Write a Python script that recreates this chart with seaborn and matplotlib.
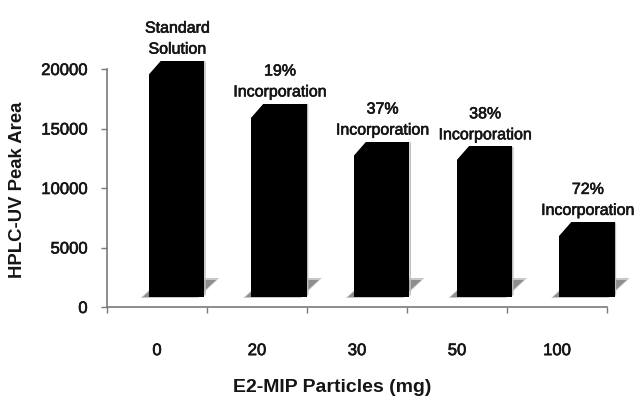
import numpy as np
import pandas as pd
import matplotlib
matplotlib.use("Agg")
import matplotlib.pyplot as plt
import matplotlib.patheffects as pe
import seaborn as sns
from matplotlib.transforms import Affine2D, IdentityTransform
from matplotlib.patches import Polygon

# ---- data ----
particles = ["0", "20", "30", "50", "100"]
peak_area = [19850, 16250, 13050, 12650, 6300]
bar_labels = ["Standard\nSolution", "19%\nIncorporation", "37%\nIncorporation",
              "38%\nIncorporation", "72%\nIncorporation"]
y_ticks = [0, 5000, 10000, 15000, 20000]
x_title = "E2-MIP Particles (mg)"
y_title = "HPLC-UV Peak Area"

sns.set_style("white")
plt.rcParams['font.family'] = ['Liberation Sans', 'DejaVu Sans']

W, H = 637, 403
fig = plt.figure(figsize=(W / 100, H / 100), dpi=100)
ax = fig.add_axes([107 / W, (H - 307) / H, 500 / W, 238 / H])

df = pd.DataFrame({"particles": particles, "area": peak_area})
sns.barplot(data=df, x="particles", y="area", order=particles, color="black",
            saturation=1, width=0.555, linewidth=0, ax=ax, zorder=3)

ax.set_xlim(-0.5, 4.5)
ax.set_ylim(0, 20000)
ax.autoscale(False)

grey = "#7a7a7a"
ink = "#151515"
heavy = [pe.withStroke(linewidth=0.45, foreground=ink)]

for side in ["top", "right"]:
    ax.spines[side].set_visible(False)
for side in ["left", "bottom"]:
    ax.spines[side].set_color(grey)
    ax.spines[side].set_linewidth(1.2)

ax.set_yticks(y_ticks)
ax.set_yticklabels([str(v) for v in y_ticks])
ax.tick_params(axis="y", direction="out", length=4, width=1, color=grey,
               pad=10, labelsize=12, left=True, labelcolor=ink)

ax.set_xticks(np.arange(-0.5, 5.0, 1.0))
ax.set_xticklabels([])
ax.set_xticks(range(len(particles)), particles, minor=True)
ax.tick_params(axis="x", which="major", direction="out", length=4, width=1,
               color=grey, bottom=True)
ax.tick_params(axis="x", which="minor", length=0, pad=26, labelsize=12,
               labelcolor=ink)
for t in ax.get_yticklabels() + ax.get_xticklabels(minor=True):
    t.set_path_effects(heavy)

ax.set_xlabel(x_title, fontsize=14, fontweight="bold", color=ink)
ax.xaxis.set_label_coords((332 - 107) / 500, (307 - 388) / 238)
ax.xaxis.label.set_va("center")
ax.set_ylabel(y_title, fontsize=13.3, fontweight="bold", color=ink)
ax.yaxis.set_label_coords((18 - 107) / 500, (307 - 190) / 238)
ax.yaxis.label.set_va("center")

# ---- pseudo 3D styling derived from the bars drawn by seaborn ----
dy = 10
for i, p in enumerate(ax.patches[:len(particles)]):
    x0, y0 = ax.transData.transform((p.get_x(), 0))
    x1, y1 = ax.transData.transform((p.get_x() + p.get_width(), p.get_height()))
    cx = (x0 + x1) / 2
    dx = 19.5 + 0.026 * (cx - 157)
    p.set_transform(ax.transData + Affine2D().translate(dx, dy))
    p.set_clip_on(False)
    L, R, B, T = x0 + dx, x1 + dx, y0 + dy, y1 + dy
    # floor shadow (soft)
    shadow_outer = Polygon([(L - 8, B - 1), (R - 6, B - 1), (R + 15, B + 19), (L + 13, B + 19)],
                           closed=True, facecolor="#c8c8c8", edgecolor="none",
                           transform=IdentityTransform(), zorder=1.9, clip_on=False)
    ax.add_patch(shadow_outer)
    shadow = Polygon([(L - 6, B), (R - 7, B), (R + 12, B + 17), (L + 13, B + 17)],
                     closed=True, facecolor="#8e8e8e", edgecolor="none",
                     transform=IdentityTransform(), zorder=2, clip_on=False)
    ax.add_patch(shadow)
    # light side edge
    side = Polygon([(R, B + 1), (R + 1.5, B + 2), (R + 1.5, T - 1), (R, T)],
                   closed=True, facecolor="#bdbdbd", edgecolor="none",
                   transform=IdentityTransform(), zorder=2.5, clip_on=False)
    ax.add_patch(side)
    # chamfered top-left corner
    cut = Polygon([(L - 1, T + 1), (L + 13, T + 1), (L - 1, T - 15)], closed=True,
                  facecolor="white", edgecolor="none",
                  transform=IdentityTransform(), zorder=4, clip_on=False)
    ax.add_patch(cut)
    ax.annotate(bar_labels[i], xy=((L + R) / 2 + 1, T), xycoords="figure pixels",
                xytext=(0, 3), textcoords="offset points", ha="center",
                va="bottom", fontsize=11.5, linespacing=1.5, color=ink,
                annotation_clip=False, path_effects=heavy)

fig.savefig("out.png", dpi=100, facecolor="white")
